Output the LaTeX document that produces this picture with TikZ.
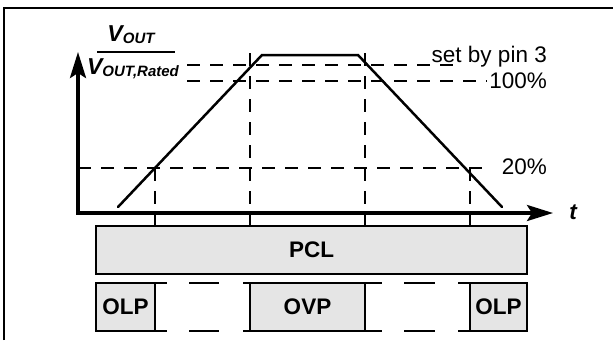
\documentclass[tikz,border=0pt]{standalone}
\usepackage{fontspec}
\setmainfont{Liberation Sans}
\usetikzlibrary{arrows.meta, positioning, calc}

\newcommand{\bigfont}{\fontsize{22.5bp}{25bp}\selectfont}
\newcommand{\subfont}{\fontsize{15bp}{15bp}\selectfont}

\begin{document}
\begin{tikzpicture}[x=1bp, y=-1bp,
    axisline/.style={line width=3.5bp, {Stealth[length=26bp, width=16bp, inset=5bp]}-{Stealth[length=26bp, width=16bp, inset=5bp]}},
    guide/.style={line width=1.5bp, dash pattern=on 13bp off 10bp},
    protbox/.style={draw, line width=1.7bp, fill=black!10, inner sep=0pt, outer sep=0pt, minimum height=48bp, font=\bigfont\bfseries},
    lbl/.style={font=\bigfont, inner sep=0pt}]
        \useasboundingbox (0,0) rectangle (613,340);
        % frame
        \draw[line width=2bp] (4,340) -- (4,8) -- (613,8);

        % guides
        \draw[guide] (187,65) -- (460,65);
        \draw[guide] (187,81) -- (487,81);
        \draw[guide] (78,168) -- (490,168);
        \draw[guide] (250,53) -- (250,213);
        \draw[guide] (365,53) -- (365,213);
        \draw[guide] (155,168) -- (155,213);
        \draw[guide] (470,168) -- (470,213);
        \foreach \x in {155,250,365,470}
            \draw[line width=1.5bp] (\x,213) -- (\x,226);

        % output ramp
        \draw[line width=2.5bp, line cap=round] (118,207) -- (262,55) -- (358,55) -- (502,207);

        % axes
        \coordinate (o) at (78,213);
        \draw[axisline] (78,52) -- (o) -- (553,213);
        \node[font=\bigfont\bfseries\itshape] (tlbl) at (573,212) {t};

        \node[inner sep=0pt, font=\fontsize{23bp}{25bp}\selectfont\bfseries\itshape] (vnum) at (131,35) {V\raisebox{-2bp}{\subfont OUT}};
        \node[inner sep=0pt, font=\fontsize{23bp}{25bp}\selectfont\bfseries\itshape] (vden) at (133,69) {V\raisebox{-2bp}{\subfont OUT,Rated}};
        \draw[line width=2bp] (97,52) -- (175,52);

        \node[lbl, anchor=base east] (pin) at (547,62) {set by pin 3};
        \node[lbl, anchor=base east] (full) at (547,88) {100\%};
        \node[lbl, anchor=base east] (low) at (547,174) {20\%};

        % protection blocks
        \node[protbox, minimum width=431bp] (pcl) at (311.5,250) {PCL};
        \node[protbox, minimum width=59bp, anchor=north west] (olp1) at (96,283) {OLP};
        \node[protbox, minimum width=115bp, anchor=north west] (ovp) at (250,283) {OVP};
        \node[protbox, minimum width=57bp, anchor=north west] (olp2) at (470,283) {OLP};

        \draw[line width=1.7bp, dash pattern=on 12bp off 22bp on 30bp off 24bp on 7bp] (olp1.north east) -- (ovp.north west);
        \draw[line width=1.7bp, dash pattern=on 12bp off 22bp on 30bp off 24bp on 7bp] (olp1.south east) -- (ovp.south west);
        \draw[line width=1.7bp, dash pattern=on 17bp off 22bp on 31bp off 23bp on 12bp] (ovp.north east) -- (olp2.north west);
        \draw[line width=1.7bp, dash pattern=on 17bp off 22bp on 31bp off 23bp on 12bp] (ovp.south east) -- (olp2.south west);
\end{tikzpicture}
\end{document}
